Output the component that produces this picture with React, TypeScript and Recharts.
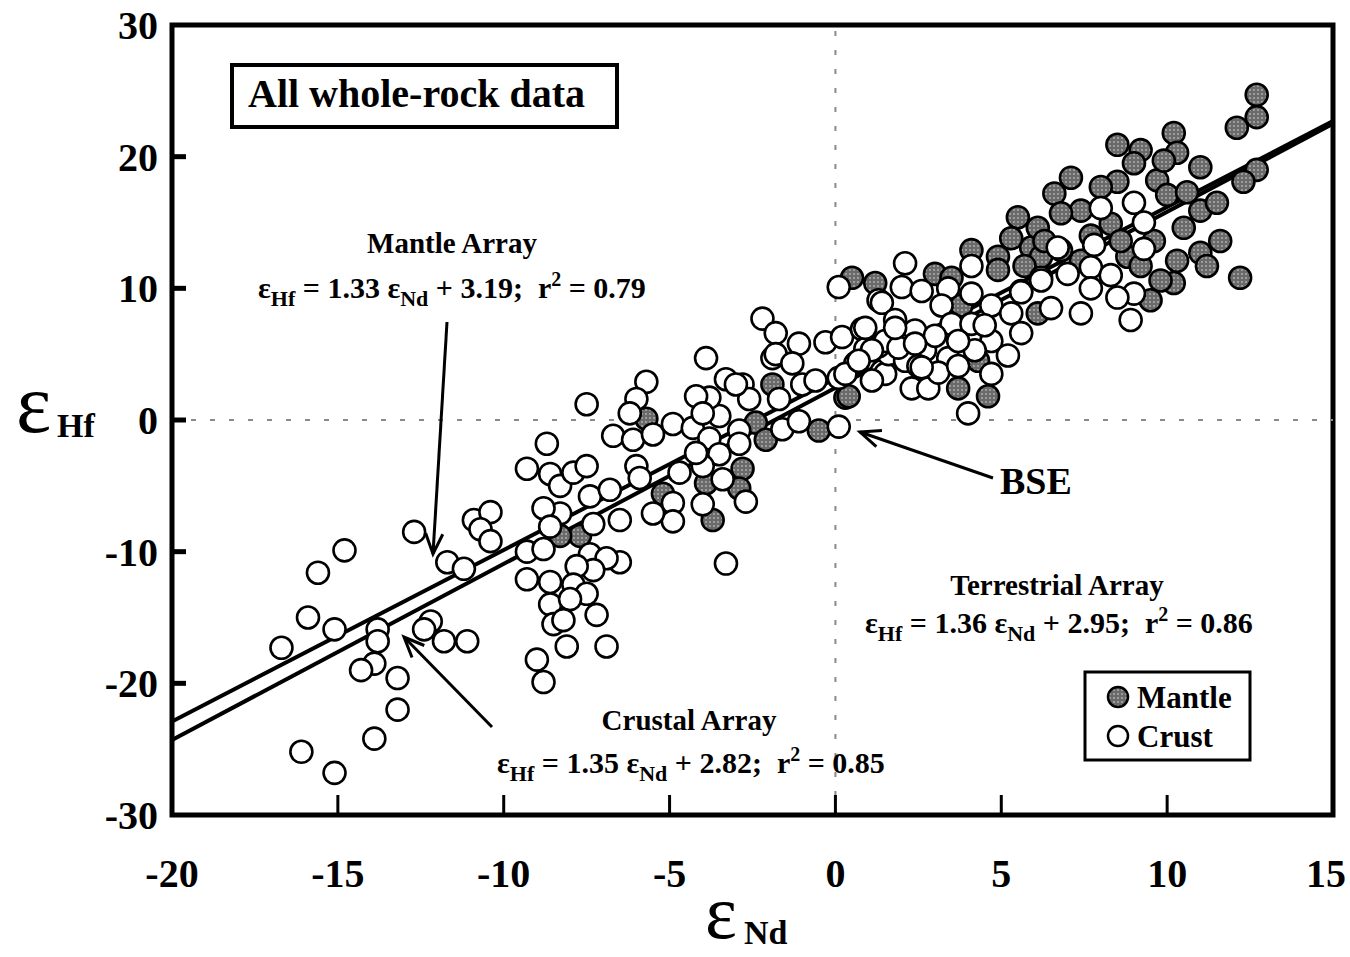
import React from 'react';
import { ScatterChart, Scatter, XAxis, YAxis, ReferenceLine, ReferenceArea } from 'recharts';

// ---- data ----
const crustNd = [
  -12.7, -14.8, -15.6, -15.9, -15.1, -16.7, -13.8, -13.8, -13.9, -14.3, -13.2, -13.2, -13.9, -16.1, -15.1,
  -11.7, -11.2, -10.9, -10.4, -10.7, -10.4, -12.2, -12.4, -11.8, -11.1,
  -2.2, -1.8, -1.9, -3.9, -5.7, -6.0, -6.2, -7.5, -6.7, -6.1, -5.5, -8.7, -4.9, -4.3, -3.8, -3.5, -3.3, -2.8,
  -3.8, -4.2, -2.6, -2.9, -2.9, -3.5, -4.0, -4.2, -4.7, -3.4, -2.7, -4.0, -4.9, -4.9, -5.5,
  -9.3, -8.6, -8.3, -7.9, -7.5, -7.4, -6.8, -6.0, -5.9, -6.5, -7.3, -8.3, -8.8, -8.6, -9.3, -8.8, -7.4, -6.5,
  -6.9, -7.3, -7.8, -9.3, -8.6, -7.9, -7.5, -8.6, -8.0, -8.5, -8.2, -7.2, -8.1, -6.9, -9.0, -8.8, -3.3,
  -1.1, -1.8, -1.3, -1.0, -0.6, -1.7, -3.0, -4.0, -1.6, -1.1, 0.1, -0.3, 0.2, 0.8, 0.9, 0.6, 1.4, 0.1, 0.1, 1.3,
  2.1, 2.0, 1.4, 0.9, 2.1, 2.7, 2.6, 3.4, 3.2, 3.5, 4.1, 4.1, 4.7, 4.1, 5.3, 5.6, 4.7, 5.2, 4.7, 3.4, 2.3, 2.8,
  1.5, 1.1, 4.0, 0.3, 5.6, 6.2, 6.5, 1.6, 2.1,
  8.0, 9.0, 9.3, 6.7, 7.8, 9.3, 7.7, 7.0, 8.3, 6.2, 7.7, 5.6, 9.0, 7.4, 8.5, 8.9,
  1.8, 2.4, 3.0, 2.5, 3.1, 3.7, 4.2, 3.7, 1.3, 4.5,
  1.5, 1.9, 2.4, 2.6, 1.8, 1.1, 0.7,
];
const crustHf = [
  -8.5, -9.9, -11.6, -15.0, -15.9, -17.3, -15.9, -16.8, -18.5, -19.0, -19.6, -22.0, -24.2, -25.2, -26.8,
  -10.8, -11.3, -7.6, -7.0, -8.3, -9.2, -15.3, -15.9, -16.8, -16.8,
  7.7, 6.6, 4.7, 4.7, 2.9, 1.6, 0.5, 1.2, -1.2, -1.5, -1.1, -1.8, -0.3, -0.6, -1.4, 0.3, 3.1, 2.7,
  1.7, 1.8, 1.6, -0.8, -1.8, -2.6, -3.5, -2.5, -4.0, -4.5, -6.2, -6.4, -6.3, -7.7, -7.1,
  -3.7, -4.1, -5.0, -4.0, -3.5, -5.8, -5.3, -3.5, -4.4, -7.6, -7.9, -7.1, -6.7, -8.1, -10.0, -9.8, -10.2, -10.8,
  -10.5, -11.4, -11.1, -12.1, -12.3, -12.5, -13.2, -14.0, -13.6, -15.5, -15.2, -14.8, -17.2, -17.2, -18.2, -19.9, -10.9,
  5.8, 5.0, 4.3, 2.7, 3.0, 1.6, 2.7, 0.5, -0.7, -0.1, 3.2, 5.9, 6.3, 6.9, 5.4, 4.3, 3.7, -0.5, 10.1, 9.1,
  11.9, 10.1, 8.9, 7.0, 6.3, 5.3, 9.8, 10.0, 8.7, 7.3, 9.6, 11.7, 8.7, 7.3, 8.1, 6.6, 6.0, 4.9, 3.5, 4.7, 2.4, 2.4,
  3.5, 3.0, 0.5, 3.5, 9.8, 10.8, 8.5, 5.0, 4.5,
  16.1, 16.5, 15.0, 13.1, 13.3, 13.0, 11.6, 11.1, 11.0, 10.6, 10.0, 9.7, 9.6, 8.1, 9.3, 7.6,
  7.6, 6.8, 6.4, 4.1, 3.6, 4.1, 5.3, 6.0, 5.6, 7.2,
  6.0, 5.5, 5.8, 4.0, 7.0, 5.3, 4.5,
];
const mantleNd = [
  -5.7, -1.9, -2.4, -2.1, -2.8, -2.9, -3.9, -5.2, -3.7, -7.7, -8.3, 0.3, -0.5,
  0.5, 1.2, 3.0, 3.5, 4.1, 4.9, 5.9, 3.8, 4.3, 3.7, 4.6, 0.4, 6.1,
  8.5, 9.2, 10.2, 10.3, 11.0, 12.1, 12.7, 12.3, 7.1, 6.6, 5.5, 6.1, 5.3, 8.5, 9.7, 10.0, 10.6, 11.0, 10.5,
  11.5, 11.6, 11.0, 11.2, 10.3, 10.2, 9.5, 12.2, 8.8, 9.0, 8.0, 7.4, 6.8, 8.3, 7.4, 6.2, 12.7, 12.7, 9.9,
  6.3, 6.8, 4.9, 5.7, 7.7, 8.6, 9.6, 9.8, 9.2,
];
const mantleHf = [
  0.1, 2.7, -0.2, -1.5, -3.7, -5.2, -4.8, -5.6, -7.6, -8.8, -8.8, 1.7, -0.8,
  10.8, 10.4, 11.1, 10.8, 12.9, 12.4, 13.1, 8.7, 4.5, 2.4, 1.8, 1.8, 8.1,
  20.9, 20.5, 21.8, 20.3, 19.2, 22.2, 19.0, 18.1, 18.4, 17.2, 15.4, 14.6, 13.8, 18.1, 18.2, 17.1, 17.3, 15.9, 14.6,
  16.5, 13.6, 12.7, 11.7, 12.1, 10.4, 9.1, 10.8, 12.4, 19.5, 17.7, 15.9, 15.7, 14.9, 12.1, 12.4, 24.7, 23.0, 19.7,
  13.6, 12.9, 11.4, 11.7, 14.0, 13.6, 13.6, 10.6, 11.7,
];
const xTicks = [-20, -15, -10, -5, 0, 5, 10, 15];
const yTicks = [-30, -20, -10, 0, 10, 20, 30];
const mantleArrayNd = [-20, 15];
const mantleArrayHf = [-22.9, 22.7];
const crustalArrayNd = [-20, 15];
const crustalArrayHf = [-24.3, 22.5];

const crustData = crustNd.map((x, i) => ({ x, y: crustHf[i] }));
const mantleData = mantleNd.map((x, i) => ({ x, y: mantleHf[i] }));
const mantleSeg = mantleArrayNd.map((x, i) => ({ x, y: mantleArrayHf[i] }));
const crustalSeg = crustalArrayNd.map((x, i) => ({ x, y: crustalArrayHf[i] }));

const FONT = "'Liberation Serif', 'Times New Roman', serif";

const XTick = (props: any) => {
  const { x, y, payload } = props;
  const v = payload.value;
  return (
    <g>
      {v > -20 && v < 15 && <line x1={x} x2={x} y1={y} y2={y - 20} stroke="#000" strokeWidth={3} />}
      <text x={Math.min(x, 1326)} y={y + 72} textAnchor="middle" fontFamily={FONT} fontSize={40} fontWeight="bold" fill="#000">{String(v)}</text>
    </g>
  );
};
const YTick = (props: any) => {
  const { x, y, payload } = props;
  const v = payload.value;
  return (
    <g>
      {v > -30 && v < 30 && <line x1={x} x2={x + 14} y1={y} y2={y} stroke="#000" strokeWidth={5} />}
      <text x={x - 14} y={y + 14} textAnchor="end" fontFamily={FONT} fontSize={40} fontWeight="bold" fill="#000">{String(v)}</text>
    </g>
  );
};

const CrustDot = (p: any) => <circle cx={p.cx} cy={p.cy} r={11} fill="#fff" stroke="#000" strokeWidth={2.6} />;
const MantleDot = (p: any) => <circle cx={p.cx} cy={p.cy} r={11} fill="url(#mantleFill)" stroke="#000" strokeWidth={2.6} />;

const Arrow = ({ x1, y1, x2, y2 }: any) => {
  const dx = x2 - x1, dy = y2 - y1;
  const L = Math.hypot(dx, dy);
  const ux = dx / L, uy = dy / L;
  const h = 22, a = 0.4;
  const c = Math.cos(a), s = Math.sin(a);
  const ax = x2 - h * (ux * c - uy * s), ay = y2 - h * (uy * c + ux * s);
  const bx = x2 - h * (ux * c + uy * s), by = y2 - h * (uy * c - ux * s);
  return (
    <g stroke="#000" strokeWidth={3} fill="none">
      <line x1={x1} y1={y1} x2={x2} y2={y2} />
      <polyline points={`${ax},${ay} ${x2},${y2} ${bx},${by}`} />
    </g>
  );
};

const Eq = ({ x, y, a, b, r }: any) => (
  <text x={x} y={y} fontFamily={FONT} fontSize={30} fontWeight="bold" fill="#000" style={{ whiteSpace: 'pre' }}>
    ε<tspan dy={8} fontSize={22}>Hf</tspan>
    <tspan dy={-8}>{` = ${a} ε`}</tspan>
    <tspan dy={8} fontSize={22}>Nd</tspan>
    <tspan dy={-8}>{` + ${b};  r`}</tspan>
    <tspan dy={-12} fontSize={20}>2</tspan>
    <tspan dy={12}>{` = ${r}`}</tspan>
  </text>
);

export default function App() {
  return (
    <div style={{ position: 'absolute', left: 0, top: 0, width: 1350, height: 957, background: '#fff', overflow: 'hidden' }}>
      <svg width={0} height={0} style={{ position: 'absolute' }}>
        <defs>
          <pattern id="mantleFill" patternUnits="userSpaceOnUse" width={4} height={4}>
            <rect width={4} height={4} fill="#6a6a6a" />
            <circle cx={2} cy={2} r={0.9} fill="#b5b5b5" />
          </pattern>
        </defs>
      </svg>
      <ScatterChart width={1350} height={957} margin={{ top: 25, right: 17, bottom: 0, left: 0 }}>
        <XAxis type="number" dataKey="x" domain={[-20, 15]} ticks={xTicks} height={142} axisLine={false} tickLine={false} tickSize={0} tickMargin={0} tick={<XTick />} interval={0} allowDataOverflow />
        <YAxis type="number" dataKey="y" domain={[-30, 30]} ticks={yTicks} width={172} axisLine={false} tickLine={false} tickSize={0} tickMargin={0} tick={<YTick />} interval={0} allowDataOverflow />
        <ReferenceLine x={0} stroke="#8a8a8a" strokeWidth={2} strokeDasharray="5 14" />
        <ReferenceLine y={0} stroke="#8a8a8a" strokeWidth={2} strokeDasharray="5 14" />
        <ReferenceLine segment={mantleSeg} stroke="#000" strokeWidth={4} ifOverflow="visible" />
        <ReferenceLine segment={crustalSeg} stroke="#000" strokeWidth={4} ifOverflow="visible" />
        <ReferenceArea x1={-20} x2={15} y1={-30} y2={30} fill="none" fillOpacity={0} stroke="#000" strokeWidth={5} ifOverflow="visible" />
        <Scatter name="Mantle" data={mantleData} shape={MantleDot} isAnimationActive={false} />
        <Scatter name="Crust" data={crustData} shape={CrustDot} isAnimationActive={false} />
      </ScatterChart>
      <svg width={1350} height={957} style={{ position: 'absolute', left: 0, top: 0, pointerEvents: 'none' }}>
        <rect x={232} y={65} width={385} height={62} fill="#fff" stroke="#000" strokeWidth={4} />
        <text x={248} y={107} fontFamily={FONT} fontSize={40} fontWeight="bold">All whole-rock data</text>

        <text x={452} y={253} textAnchor="middle" fontFamily={FONT} fontSize={29} fontWeight="bold">Mantle Array</text>
        <Eq x={258} y={298} a="1.33" b="3.19" r="0.79" />
        <Arrow x1={447} y1={322} x2={433} y2={554} />

        <text x={1000} y={494} fontFamily={FONT} fontSize={38} fontWeight="bold">BSE</text>
        <Arrow x1={993} y1={478} x2={860} y2={432} />

        <text x={1057} y={595} textAnchor="middle" fontFamily={FONT} fontSize={29} fontWeight="bold">Terrestrial Array</text>
        <Eq x={865} y={633} a="1.36" b="2.95" r="0.86" />

        <text x={689} y={730} textAnchor="middle" fontFamily={FONT} fontSize={29} fontWeight="bold">Crustal Array</text>
        <Eq x={497} y={773} a="1.35" b="2.82" r="0.85" />
        <Arrow x1={492} y1={727} x2={404} y2={637} />

        <rect x={1085} y={672} width={165} height={88} fill="#fff" stroke="#000" strokeWidth={3} />
        <circle cx={1118} cy={697} r={10} fill="url(#mantleFill)" stroke="#000" strokeWidth={2.5} />
        <text x={1137} y={708} fontFamily={FONT} fontSize={31} fontWeight="bold">Mantle</text>
        <circle cx={1118} cy={736} r={10} fill="#fff" stroke="#000" strokeWidth={2.5} />
        <text x={1137} y={747} fontFamily={FONT} fontSize={31} fontWeight="bold">Crust</text>

        <text x={16} y={432} fontFamily={FONT} fontSize={84}>ε</text>
        <text x={57} y={437} fontFamily={FONT} fontSize={34} fontWeight="bold">Hf</text>
        <text x={705} y={938} fontFamily={FONT} fontSize={76}>ε</text>
        <text x={744} y={944} fontFamily={FONT} fontSize={34} fontWeight="bold">Nd</text>
      </svg>
    </div>
  );
}
